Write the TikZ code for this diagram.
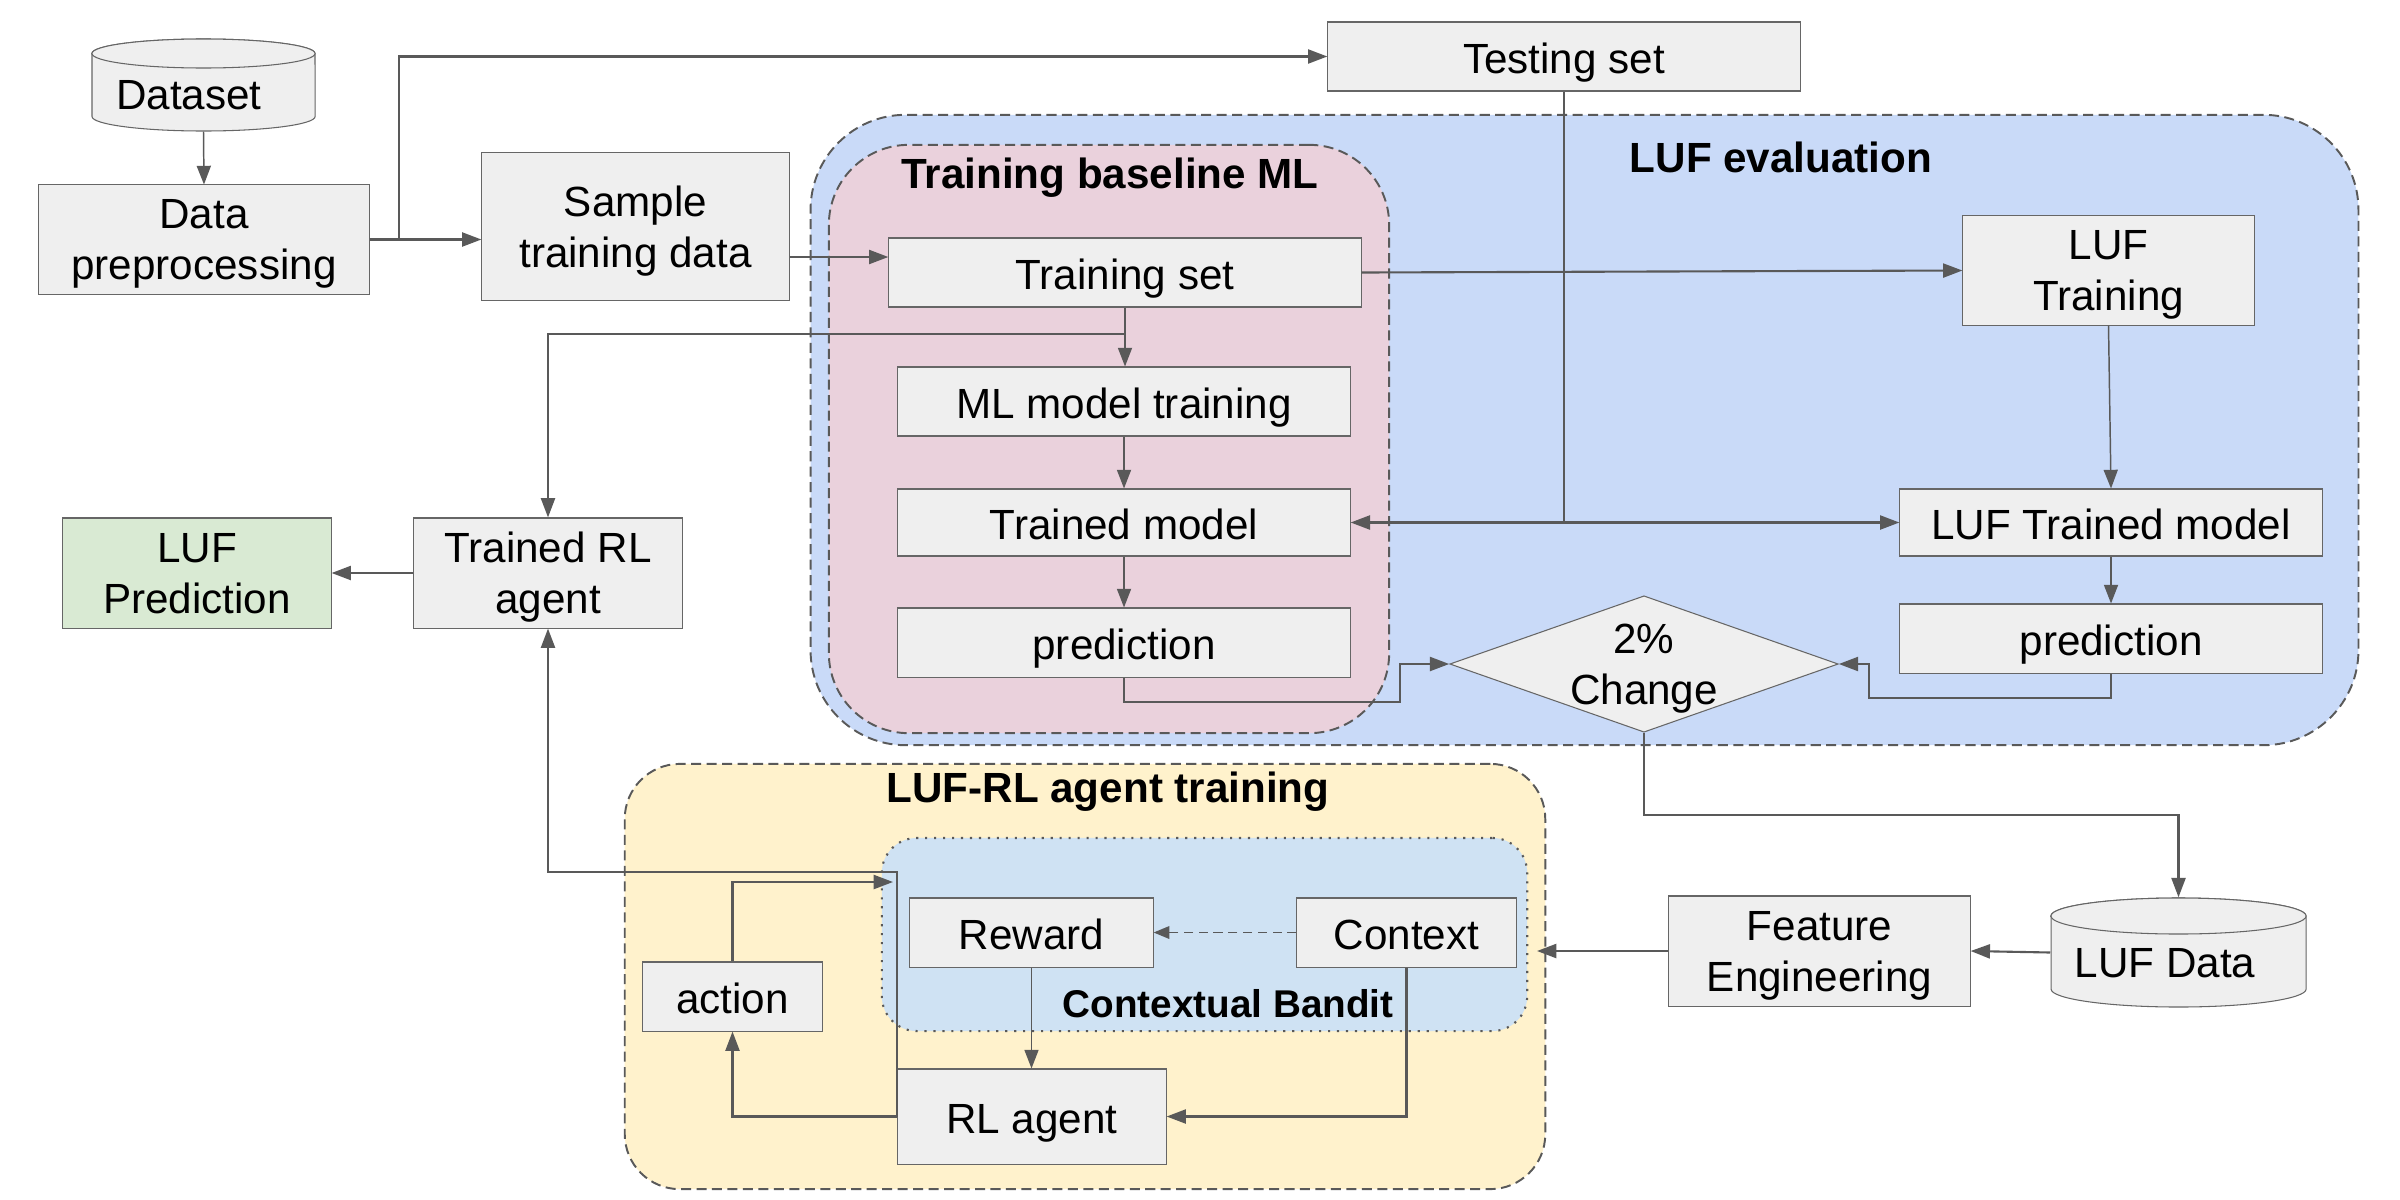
\documentclass[tikz,border=0pt]{standalone}
\usepackage{fontspec}
\setmainfont{Liberation Sans}
\usetikzlibrary{arrows.meta}
\definecolor{boxfill}{HTML}{EFEFEF}
\definecolor{boxline}{HTML}{666666}
\definecolor{linegray}{HTML}{595959}
\definecolor{evalblue}{HTML}{C9DAF8}
\definecolor{basepink}{HTML}{EAD1DC}
\definecolor{rlyellow}{HTML}{FFF2CC}
\definecolor{banditblue}{HTML}{CFE2F3}
\definecolor{predgreen}{HTML}{D9EAD3}
\begin{document}
\begin{tikzpicture}[x=0.01cm,y=-0.01cm,
  every node/.style={font=\fontsize{12}{14.5}\selectfont},
  box/.style={draw=boxline, fill=boxfill, line width=0.3pt, inner sep=0pt, align=center, text depth=0pt},
  oneline/.style={text height=9.6pt},
  grp/.style={draw=linegray, line width=0.55pt, dash pattern=on 2.85pt off 1.55pt, inner sep=0pt},
  dotgrp/.style={draw=linegray, line width=0.6pt, dash pattern=on 0.6pt off 1.95pt, inner sep=0pt},
  title/.style={font=\fontsize{12}{14}\selectfont\bfseries, anchor=base, inner sep=0pt},
  conn/.style={draw=linegray, line width=0.6pt, -{Triangle[length=5.5pt,width=4pt]}},
  thinconn/.style={draw=linegray, line width=0.42pt, -{Triangle[length=5.3pt,width=4pt]}},
  dconn/.style={draw=linegray, line width=0.6pt, {Triangle[length=5.5pt,width=4pt]}-{Triangle[length=5.5pt,width=4pt]}},
  thinline/.style={draw=linegray, line width=0.42pt},
  dashconn/.style={draw=linegray, line width=0.45pt, dash pattern=on 2.6pt off 1.6pt, -{Triangle[length=4.5pt,width=3.6pt]}},
  cylpath/.style={draw=boxline, fill=boxfill, line width=0.3pt},
]
\useasboundingbox (0,0) rectangle (2400,1200);

% ---------- group containers ----------
\node[grp, fill=evalblue, rounded corners=0.95cm, minimum width=15.47cm, minimum height=6.30cm] (eval) at (1584.5,430) {};
\node[grp, fill=basepink, rounded corners=0.8cm, minimum width=5.60cm, minimum height=5.88cm] (base) at (1109,439) {};
\node[grp, fill=rlyellow, rounded corners=0.55cm, minimum width=9.20cm, minimum height=4.25cm] (rlgrp) at (1085,976.5) {};
\node[dotgrp, fill=banditblue, rounded corners=0.35cm, minimum width=6.45cm, minimum height=1.93cm] (bandit) at (1204.5,934.5) {};

% ---------- titles ----------
\node[title] (evalT) at (1781,172) {LUF evaluation};
\node[title] (baseT) at (1110,188) {Training baseline ML};
\node[title] (rlT) at (1108,802) {LUF-RL agent training};
\node[title, font=\fontsize{11}{13}\selectfont\bfseries] (banT) at (1228,1017) {Contextual Bandit};

% ---------- cylinders ----------
\path[cylpath] (92,53.5) -- (92,116.5) arc[start angle=180, end angle=360, x radius=1.115cm, y radius=0.145cm]
  -- (315,53.5) arc[start angle=0, end angle=180, x radius=1.115cm, y radius=0.145cm] -- cycle;
\path[cylpath] (203.5,53.5) ellipse [x radius=1.115cm, y radius=0.145cm];
\node[inner sep=0pt, minimum width=2.23cm, minimum height=0.92cm] (ds) at (203.5,85) {};
\node[anchor=base, inner sep=0pt] (dsT) at (189,109) {Dataset};

\path[cylpath] (2051,916) -- (2051,989) arc[start angle=180, end angle=360, x radius=1.275cm, y radius=0.18cm]
  -- (2306,916) arc[start angle=0, end angle=180, x radius=1.275cm, y radius=0.18cm] -- cycle;
\path[cylpath] (2178.5,916) ellipse [x radius=1.275cm, y radius=0.18cm];
\node[inner sep=0pt, minimum width=2.55cm, minimum height=1.09cm] (lufd) at (2178.5,952.5) {};
\node[anchor=base, inner sep=0pt] (lufdT) at (2165,977) {LUF Data};

% ---------- diamond ----------
\path[cylpath] (1450,664) -- (1644,596) -- (1838,664) -- (1644,732) -- cycle;
\node[inner sep=0pt, align=center, text depth=0pt, minimum width=3.88cm, minimum height=1.36cm] (dia) at (1644,664) {2\%\\Change};

% ---------- boxes ----------
\node[box, minimum width=3.30cm, minimum height=1.09cm] (dp) at (204,239.5) {Data\\preprocessing};
\node[box, minimum width=3.07cm, minimum height=1.47cm] (sample) at (635.5,226.5) {Sample\\training data};
\node[box, oneline, minimum width=4.72cm, minimum height=0.69cm] (ts) at (1564,56.5) {Testing set};
\node[box, oneline, minimum width=4.72cm, minimum height=0.69cm] (trainset) at (1125,272.5) {Training set};
\node[box, oneline, minimum width=4.52cm, minimum height=0.69cm] (mlt) at (1124,401.5) {ML model training};
\node[box, oneline, minimum width=4.52cm, minimum height=0.67cm] (tm) at (1124,522.5) {Trained model};
\node[box, oneline, minimum width=4.52cm, minimum height=0.69cm] (predL) at (1124,642.5) {prediction};
\node[box, minimum width=2.91cm, minimum height=1.09cm] (luft) at (2108.5,270.5) {LUF\\Training};
\node[box, oneline, minimum width=4.22cm, minimum height=0.67cm] (luftm) at (2111,522.5) {LUF Trained model};
\node[box, oneline, minimum width=4.22cm, minimum height=0.69cm] (predR) at (2111,638.5) {prediction};
\node[box, minimum width=2.68cm, minimum height=1.10cm] (trl) at (548,573) {Trained RL\\agent};
\node[box, fill=predgreen, minimum width=2.68cm, minimum height=1.10cm] (lufp) at (197,573) {LUF\\Prediction};
\node[box, oneline, minimum width=2.43cm, minimum height=0.69cm] (rew) at (1031.5,932.5) {Reward};
\node[box, oneline, minimum width=2.19cm, minimum height=0.69cm] (ctx) at (1406.5,932.5) {Context};
\node[box, oneline, minimum width=1.79cm, minimum height=0.69cm] (action) at (732.5,996.5) {action};
\node[box, oneline, minimum width=2.68cm, minimum height=0.95cm] (rl) at (1032,1116.5) {RL agent};
\node[box, minimum width=3.01cm, minimum height=1.10cm] (fe) at (1819.5,951) {Feature\\Engineering};

\coordinate (rlin) at (1537,951);
\coordinate (banditin) at (893,882);

% ---------- connectors ----------
\draw[thinconn] (ds.south) -- (dp.north);
\draw[conn] (dp.east) -- (dp.east -| sample.west);
\draw[conn] (dp.east) -- ++(29,0) |- (ts.west);
\draw[conn] (sample.east |- 0,257) -- (trainset.west |- 0,257);
\draw[thinconn] (trainset.south) -- (trainset.south |- mlt.north);
\draw[conn] (trainset.south |- 0,334) -| (trl.north);
\draw[conn] (trainset.east) -- (luft.west);
\draw[thinconn] (mlt.south) -- (tm.north);
\draw[thinconn] (tm.south) -- (predL.north);
\draw[thinconn] (luft.south) -- (luftm.north);
\draw[thinconn] (luftm.south) -- (predR.north);
\draw[thinline] (ts.south) -- (ts.south |- tm.east);
\draw[dconn] (tm.east) -- (luftm.west);
\draw[conn] (predL.south) |- (1400,702) |- (dia.west);
\draw[conn] (predR.south) |- (1869,698) |- (dia.east);
\draw[conn] (dia.south) |- (lufd.north |- 0,815) -- (lufd.north);
\draw[conn] (lufd.west) -- (fe.east);
\draw[conn] (fe.west) -- (rlin);
\draw[conn] (trl.west) -- (lufp.east);
\draw[dashconn] (ctx.west) -- (rew.east);
\draw[thinconn] (rew.south) -- (rew.south |- rl.north);
\draw[conn] (ctx.south) |- (rl.east);
\draw[conn] (rl.west) -| (action.south);
\draw[conn] (action.north) |- (banditin);
\draw[conn] (rl.west) |- (trl.south |- 0,872) -- (trl.south);
\end{tikzpicture}
\end{document}
